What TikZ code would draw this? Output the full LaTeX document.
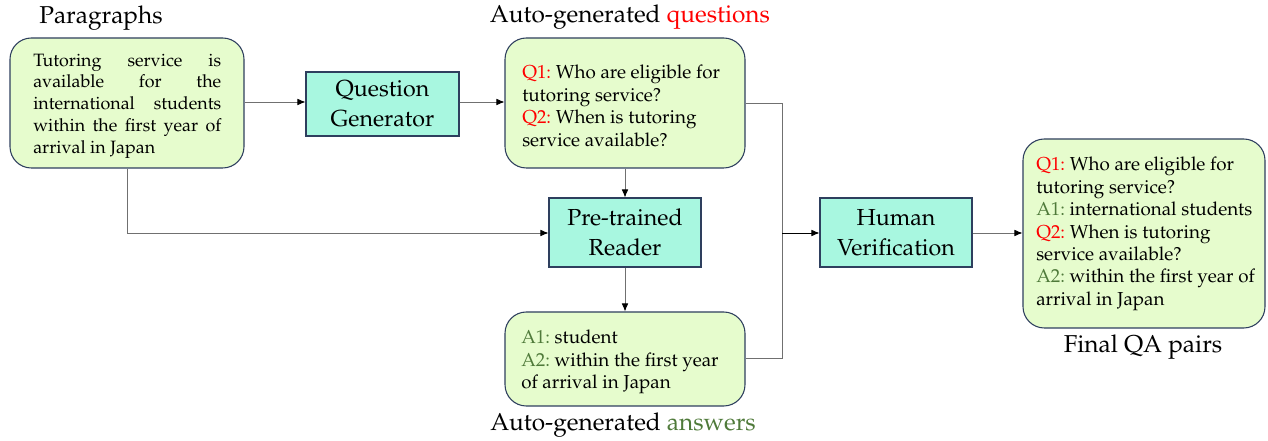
\documentclass[tikz,border=0pt]{standalone}
\usepackage[T1]{fontenc}
\usepackage{mathpazo}
\usetikzlibrary{arrows.meta}
\frenchspacing
\definecolor{boxfill}{HTML}{E6FCCD}
\definecolor{boxdraw}{HTML}{2E3F5E}
\definecolor{tealfill}{HTML}{A8F7E0}
\definecolor{linegray}{HTML}{707070}
\definecolor{qred}{HTML}{FF0000}
\definecolor{agreen}{HTML}{4F7A3A}
\tikzset{
  greenbox/.style={draw=boxdraw, fill=boxfill, rounded corners=16pt, line width=0.8pt},
  boxtext/.style={inner sep=0pt, anchor=west, align=left, font=\fontsize{14.1}{16.8}\selectfont},
  tealbox/.style={draw=boxdraw, fill=tealfill, line width=0.8pt, minimum width=114pt, minimum height=51.75pt, align=center, font=\fontsize{17.4}{22.5}\selectfont},
  heading/.style={font=\fontsize{18.3}{21}\selectfont, inner sep=0pt},
  conn/.style={draw=linegray, line width=0.6pt},
  arr/.style={conn, -{Latex[length=6pt,width=5pt,color=black]}},
}
\begin{document}
\begin{tikzpicture}[x=0.75pt,y=-0.75pt]
\useasboundingbox (0,0) rectangle (1268,441);

\node[greenbox, minimum width=175.5pt, minimum height=97.5pt] (para) at (127,103) {};
\node[boxtext, font=\fontsize{13.4}{16.3}\selectfont, text width=141pt, align=justify] (paratxt) at (33,106)
  {Tutoring service is\linebreak available for the\linebreak international students\linebreak within the first year of\linebreak arrival in Japan};
\node[heading] (paralbl) at (101,18) {Paragraphs};

\node[tealbox, minimum width=114.75pt, minimum height=48pt] (qg) at (382.5,104) {Question\\Generator};

\node[greenbox, minimum width=180pt, minimum height=97.5pt] (ques) at (625,103) {};
\node[boxtext] (questxt) at (522,106)
  {\textcolor{qred}{Q1:} Who are eligible for\\ tutoring service?\\
   \textcolor{qred}{Q2:} When is tutoring\\ service available?};
\node[heading] (queslbl) at (630,17) {Auto-generated \textcolor{qred}{questions}};

\node[tealbox] (reader) at (625,232.5) {Pre-trained\\Reader};

\node[greenbox, minimum width=180pt, minimum height=70.5pt] (ans) at (625,359) {};
\node[boxtext] (anstxt) at (521,362)
  {\textcolor{agreen}{A1:} student\\
   \textcolor{agreen}{A2:} within the first year\\ of arrival in Japan};
\node[heading] (anslbl) at (623,425) {Auto-generated \textcolor{agreen}{answers}};

\node[tealbox] (hv) at (896,232.5) {Human\\Verification};

\node[greenbox, minimum width=181.5pt, minimum height=141.75pt] (final) at (1144,233.5) {};
\node[boxtext] (finaltxt) at (1036,234)
  {\textcolor{qred}{Q1:} Who are eligible for\\ tutoring service?\\
   \textcolor{agreen}{A1:} international students\\
   \textcolor{qred}{Q2:} When is tutoring\\ service available?\\
   \textcolor{agreen}{A2:} within the first year of\\ arrival in Japan};
\node[heading] (finallbl) at (1143,347) {Final QA pairs};

\coordinate (join) at (782,233);

\draw[arr] (para.east |- 0,102) -- (qg.west |- 0,102);
\draw[arr] (qg.east |- 0,102) -- (ques.west |- 0,102);
\draw[arr] (para.south -| 127,0) |- (reader.west |- join);
\draw[arr] (ques.south) -- (reader.north);
\draw[arr] (reader.south) -- (ans.north);
\draw[conn] (ques.east |- 0,103) -| (join);
\draw[conn] (ans.east |- 0,358) -| (join);
\draw[arr, draw=black] (join) -- (hv.west |- join);
\draw[arr] (hv.east |- join) -- (final.west |- join);
\end{tikzpicture}
\end{document}
